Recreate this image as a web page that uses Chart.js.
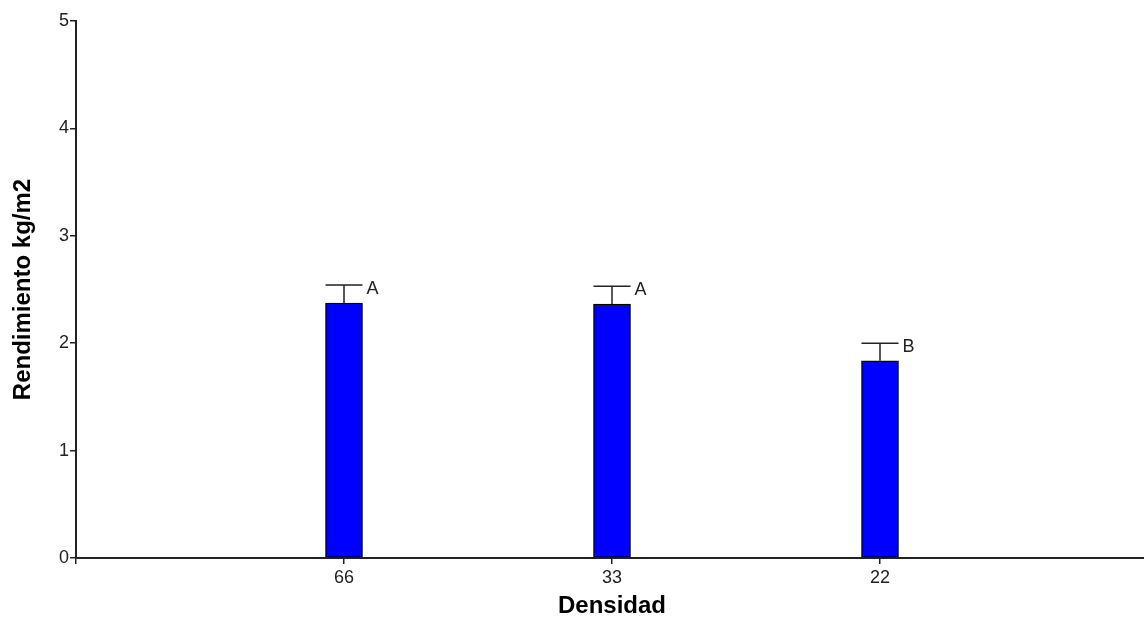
<!DOCTYPE html>
<html><head><meta charset="utf-8">
<script src="https://cdn.jsdelivr.net/npm/chart.js@4"></script>
<style>html,body{margin:0;padding:0;background:#fff;overflow:hidden}
#wrap{position:relative;width:1151px;height:619px}</style>
</head><body><div id="wrap"><canvas id="c"></canvas></div>
<script>
const categories = ['66', '33', '22'];
const rendimiento = [2.373, 2.364, 1.836];
const errorSE = [0.170, 0.167, 0.164];
const letters = ['A', 'A', 'B'];
const yTicks = [0, 1, 2, 3, 4, 5];
const xTitle = 'Densidad';
const yTitle = 'Rendimiento kg/m2';

const xLabels = ['', ...categories, ''];
const barData = [null, ...rendimiento, null];
const FAM = '"Liberation Sans", Arial, sans-serif';
const AXIS = '#222';

const errPlugin = {
  id: 'err',
  afterDatasetsDraw(chart) {
    const ctx = chart.ctx, meta = chart.getDatasetMeta(0), y = chart.scales.y;
    ctx.save();
    ctx.strokeStyle = AXIS; ctx.lineWidth = 1.5;
    rendimiento.forEach((v, i) => {
      const bar = meta.data[i + 1];
      const x = bar.x, half = bar.width / 2;
      const yt = y.getPixelForValue(v + errorSE[i]);
      const yb = y.getPixelForValue(v);
      ctx.beginPath();
      ctx.moveTo(x, yb); ctx.lineTo(x, yt);
      ctx.moveTo(x - half, yt); ctx.lineTo(x + half, yt);
      ctx.stroke();
      ctx.fillStyle = '#222';
      ctx.font = '18px ' + FAM;
      ctx.textBaseline = 'middle'; ctx.textAlign = 'left';
      ctx.fillText(letters[i], x + half + 4, yt + 4);
    });
    ctx.restore();
  }
};

new Chart(document.getElementById('c'), {
  type: 'bar',
  data: {
    labels: xLabels,
    datasets: [{
      data: barData,
      backgroundColor: '#0000FF',
      borderColor: '#000',
      borderWidth: 1.3,
      borderSkipped: false,
      barThickness: 37
    }]
  },
  options: {
    responsive: true,
    maintainAspectRatio: false,
    animation: false,
    layout: { padding: { top: 21, left: 0, right: 0, bottom: 0 } },
    plugins: { legend: { display: false }, tooltip: { enabled: false } },
    scales: {
      x: {
        type: 'category',
        offset: false,
        grid: { offset: false, drawOnChartArea: false, drawTicks: true, tickLength: 6, color: AXIS, lineWidth: 1.5 },
        border: { color: AXIS, width: 2 },
        ticks: { color: '#222', font: { size: 18, family: FAM }, padding: 3, maxRotation: 0, autoSkip: false },
        title: { display: true, text: xTitle, color: '#000', font: { size: 24, weight: 'bold', family: FAM }, padding: { top: 0, bottom: -2 } },
        afterFit: s => { s.height = 61; }
      },
      y: {
        min: 0, max: 5,
        afterBuildTicks: s => { s.ticks = yTicks.map(v => ({ value: v })); },
        grid: { drawOnChartArea: false, drawTicks: true, tickLength: 6, color: AXIS, lineWidth: 1.5 },
        border: { color: AXIS, width: 2 },
        ticks: { color: '#222', font: { size: 18, family: FAM }, padding: 1 },
        title: { display: true, text: yTitle, color: '#000', font: { size: 24, weight: 'bold', family: FAM }, padding: { top: 9, bottom: 0 } },
        afterFit: s => { s.width = 76; }
      }
    }
  },
  plugins: [errPlugin]
});
</script></body></html>
